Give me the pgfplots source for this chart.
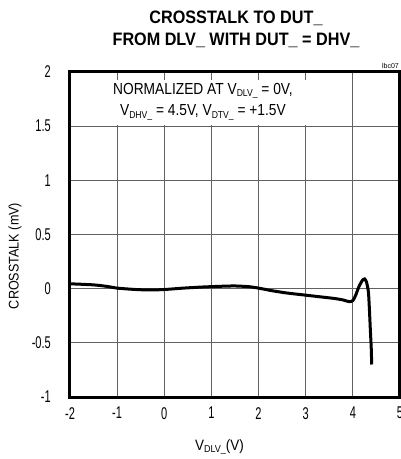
\documentclass[border=0pt]{standalone}
\usepackage{fontspec}
\setmainfont{Liberation Sans}
\newfontfamily\tickfont[FakeStretch=0.65]{Liberation Sans}
\newfontfamily\titlefont[FakeStretch=0.9]{Liberation Sans}
\newfontfamily\labelfont[FakeStretch=0.9]{Liberation Sans}
\newfontfamily\notefont[FakeStretch=0.86]{Liberation Sans}
\usepackage{pgfplots}
\pgfplotsset{compat=1.18}

% lowered small subscript, as in the datasheet
\newcommand{\sub}[1]{\raisebox{-2.5bp}{\fontsize{10bp}{10bp}\selectfont #1}}

\begin{document}
\begin{tikzpicture}
\begin{axis}[
    width=330bp, height=325bp, scale only axis,
    xmin=-2, xmax=5, ymin=-1, ymax=2,
    xtick={-2,-1,0,1,2,3,4,5},
    xticklabels={-2,-1,0,1,2,3,4,5},
    ytick={-1,-0.5,0,0.5,1,1.5,2},
    yticklabels={-1,-0.5,0,0.5,1,1.5,2},
    major tick length=0pt,
    tick style={draw=none},
    grid=major,
    major grid style={black!62, line width=1bp},
    axis line style={line width=3bp},
    xticklabel style={font=\tickfont\fontsize{17bp}{17bp}\selectfont, anchor=north, inner sep=0pt, yshift=-10bp},
    yticklabel style={font=\tickfont\fontsize{17bp}{17bp}\selectfont, anchor=east, inner sep=0pt, xshift=-19bp},
    xlabel={V\sub{DLV\_}(V)},
    xlabel style={font=\labelfont\fontsize{15bp}{15bp}\selectfont, at={(axis description cs:0.453,-0.154)}, anchor=center},
    ylabel={CROSSTALK (mV)},
    ylabel style={font=\labelfont\fontsize{14bp}{14bp}\selectfont, at={(axis description cs:-0.167,0.434)}, anchor=center, rotate=0},
    clip=false,
]
\coordinate (ll) at (rel axis cs:0,0);
\coordinate (ur) at (rel axis cs:1,1);

% white panel behind the note hides the grid
\fill[white] (axis cs:-1.96,1.515) rectangle (axis cs:3.5,1.925);
\node[align=center, font=\notefont\fontsize{16bp}{21.5bp}\selectfont] at (axis cs:0.82,1.725)
  {NORMALIZED AT V\sub{DLV\_} = 0V,\\ V\sub{DHV\_} = 4.5V, V\sub{DTV\_} = +1.5V};

\node[align=center, font=\titlefont\bfseries\fontsize{18bp}{21.5bp}\selectfont]
  at (axis description cs:0.503,1.1315) {CROSSTALK TO DUT\_\\ FROM DLV\_ WITH DUT\_ = DHV\_};
\node[anchor=east, inner sep=0pt, font=\fontsize{7bp}{7bp}\selectfont]
  at (axis description cs:0.997,1.02) {lbc07};

\addplot[black, line width=3bp, smooth, tension=0.4] coordinates {
(-2,0.045) (-1.5,0.035) (-1.2,0.02) (-1,0.005) (-0.6,-0.008) (-0.3,-0.012)
(0,-0.008) (0.4,0.005) (0.8,0.015) (1.2,0.022) (1.5,0.025) (1.8,0.018)
(2,0.005) (2.3,-0.02) (2.6,-0.04) (3,-0.06) (3.3,-0.075) (3.6,-0.09)
(3.8,-0.105) (3.92,-0.12) (4.0,-0.11) (4.06,-0.06) (4.13,0.02) (4.2,0.075)
(4.25,0.09) (4.29,0.06) (4.33,-0.03) (4.35,-0.18) (4.37,-0.37) (4.39,-0.55)
(4.40,-0.70)
};
\end{axis}
\pgfresetboundingbox
\path ([xshift=-70bp,yshift=-62bp]ll) rectangle ([xshift=1bp,yshift=72bp]ur);
\end{tikzpicture}
\end{document}
